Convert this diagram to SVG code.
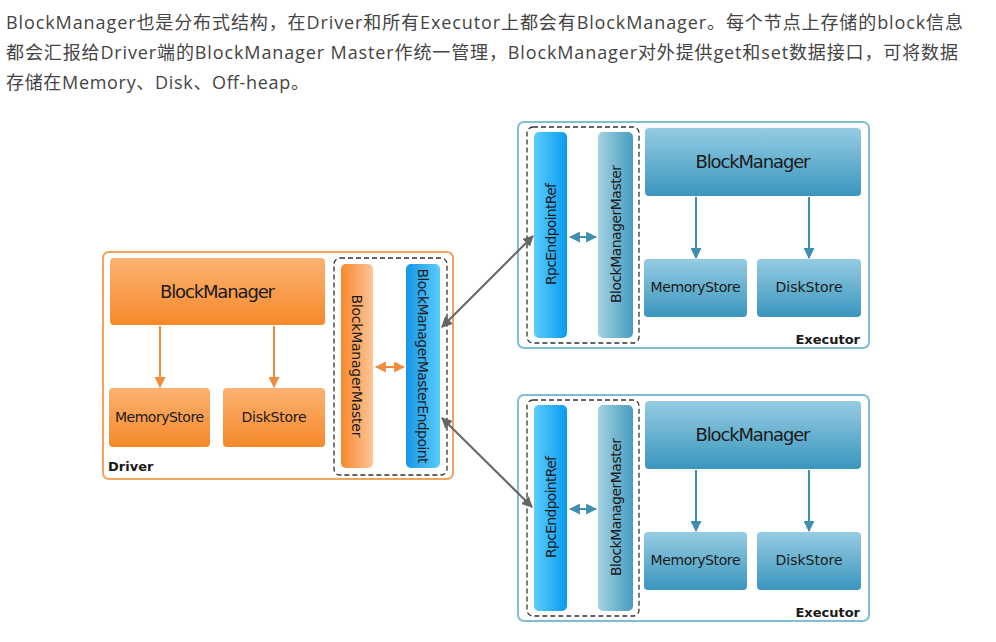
<svg xmlns="http://www.w3.org/2000/svg" width="996" height="642" viewBox="0 0 996 642">
<style>
.para{font-family:"Open Sans","Noto Sans CJK SC",sans-serif;font-size:18px;fill:#444}
.lbl{font-family:"DejaVu Sans",sans-serif;fill:#1a1a1a}
.big{font-size:18px}
.mid{font-size:14px}
.bar{font-size:14px}
.tag{font-size:13px;font-weight:bold}
.drv{fill:#fff;stroke:#F3A360;stroke-width:2}
.exe{fill:#fff;stroke:#80BED6;stroke-width:2}
.dash{fill:none;stroke:#333;stroke-width:1.3;stroke-dasharray:5 3}
.oarr{stroke:#F08C3A;stroke-width:2;fill:none}
.barr{stroke:#3E8FAE;stroke-width:2;fill:none}
.garr{stroke:#666;stroke-width:2;fill:none}
</style>
<defs>
<linearGradient id="oV" x1="0" y1="0" x2="0" y2="1"><stop offset="0" stop-color="#FBB272"/><stop offset="1" stop-color="#F6892A"/></linearGradient>
<linearGradient id="oH" x1="0" y1="0" x2="1" y2="0"><stop offset="0" stop-color="#F6882B"/><stop offset="1" stop-color="#FDC697"/></linearGradient>
<linearGradient id="bEnd" x1="0" y1="0" x2="1" y2="0"><stop offset="0" stop-color="#1796E6"/><stop offset="1" stop-color="#5ACCFC"/></linearGradient>
<linearGradient id="bRef" x1="0" y1="0" x2="1" y2="0"><stop offset="0" stop-color="#5CCDFC"/><stop offset="1" stop-color="#0A9BEE"/></linearGradient>
<linearGradient id="tH" x1="0" y1="0" x2="1" y2="0"><stop offset="0" stop-color="#A5D2E3"/><stop offset="1" stop-color="#469DC0"/></linearGradient>
<linearGradient id="tV" x1="0" y1="0" x2="0" y2="1"><stop offset="0" stop-color="#95CCE2"/><stop offset="1" stop-color="#3A96BE"/></linearGradient>
<marker id="mo" viewBox="0 0 10 10" refX="9" refY="5" markerWidth="5.5" markerHeight="5.5" orient="auto-start-reverse"><path d="M0,0L10,5L0,10z" fill="#F08C3A"/></marker>
<marker id="mb" viewBox="0 0 10 10" refX="9" refY="5" markerWidth="5.5" markerHeight="5.5" orient="auto-start-reverse"><path d="M0,0L10,5L0,10z" fill="#3E8FAE"/></marker>
<marker id="mg" viewBox="0 0 10 10" refX="9" refY="5" markerWidth="5.5" markerHeight="5.5" orient="auto-start-reverse"><path d="M0,0L10,5L0,10z" fill="#666"/></marker>
</defs>
<rect width="996" height="642" fill="#fff"/>
<g id="intro">
<text class="para" x="6" y="29" textLength="957">BlockManager也是分布式结构，在Driver和所有Executor上都会有BlockManager。每个节点上存储的block信息</text>
<text class="para" x="6" y="59" textLength="952">都会汇报给Driver端的BlockManager Master作统一管理，BlockManager对外提供get和set数据接口，可将数据</text>
<text class="para" x="6" y="89" textLength="303">存储在Memory、Disk、Off-heap。</text>
</g>
<g id="driver">
<rect class="drv" x="103" y="252" width="350" height="227" rx="6"/>
<text class="lbl tag" x="108" y="471">Driver</text>
<g id="driver-blockmanager"><rect x="110" y="258" width="215" height="67" rx="4" fill="url(#oV)"/><text class="lbl big" x="217.5" y="298" text-anchor="middle" textLength="115">BlockManager</text></g>
<g id="driver-memorystore"><rect x="109" y="388" width="101" height="59" rx="4" fill="url(#oV)"/><text class="lbl mid" x="159.5" y="422" text-anchor="middle" textLength="89">MemoryStore</text></g>
<g id="driver-diskstore"><rect x="223" y="388" width="102" height="59" rx="4" fill="url(#oV)"/><text class="lbl mid" x="274" y="422" text-anchor="middle" textLength="65">DiskStore</text></g>
<rect class="dash" x="334" y="258" width="113" height="217" rx="6"/>
<g id="driver-bmm"><rect x="341" y="264" width="32" height="204" rx="5" fill="url(#oH)"/><text class="lbl bar" transform="translate(357,366) rotate(90)" text-anchor="middle" dominant-baseline="central" textLength="143">BlockManagerMaster</text></g>
<g id="driver-bmme"><rect x="406" y="264" width="34" height="204" rx="5" fill="url(#bEnd)"/><text class="lbl bar" transform="translate(423,366) rotate(90)" text-anchor="middle" dominant-baseline="central" textLength="195">BlockManagerMasterEndpoint</text></g>
</g>
<g id="executor1">
<rect class="exe" x="518" y="122" width="351" height="226" rx="6"/>
<text class="lbl tag" x="860" y="344" text-anchor="end">Executor</text>
<rect class="dash" x="527" y="127" width="112" height="216" rx="6"/>
<g id="e1-rpc"><rect x="534" y="132" width="33" height="206" rx="5" fill="url(#bRef)"/><text class="lbl bar" transform="translate(550.5,234) rotate(-90)" text-anchor="middle" dominant-baseline="central" textLength="102">RpcEndpointRef</text></g>
<g id="e1-bmm"><rect x="598" y="132" width="35" height="206" rx="5" fill="url(#tH)"/><text class="lbl bar" transform="translate(615.5,234) rotate(-90)" text-anchor="middle" dominant-baseline="central" textLength="138">BlockManagerMaster</text></g>
<g id="e1-blockmanager"><rect x="645" y="128" width="216" height="68" rx="4" fill="url(#tV)"/><text class="lbl big" x="753" y="168" text-anchor="middle" textLength="115">BlockManager</text></g>
<g id="e1-memorystore"><rect x="644" y="259" width="103" height="58" rx="4" fill="url(#tV)"/><text class="lbl mid" x="695.5" y="292" text-anchor="middle" textLength="90">MemoryStore</text></g>
<g id="e1-diskstore"><rect x="757" y="259" width="104" height="58" rx="4" fill="url(#tV)"/><text class="lbl mid" x="809" y="292" text-anchor="middle" textLength="67">DiskStore</text></g>
</g>
<g id="executor2" transform="translate(0,273)">
<rect class="exe" x="518" y="122" width="351" height="226" rx="6"/>
<text class="lbl tag" x="860" y="344" text-anchor="end">Executor</text>
<rect class="dash" x="527" y="127" width="112" height="216" rx="6"/>
<g id="e2-rpc"><rect x="534" y="132" width="33" height="206" rx="5" fill="url(#bRef)"/><text class="lbl bar" transform="translate(550.5,234) rotate(-90)" text-anchor="middle" dominant-baseline="central" textLength="102">RpcEndpointRef</text></g>
<g id="e2-bmm"><rect x="598" y="132" width="35" height="206" rx="5" fill="url(#tH)"/><text class="lbl bar" transform="translate(615.5,234) rotate(-90)" text-anchor="middle" dominant-baseline="central" textLength="138">BlockManagerMaster</text></g>
<g id="e2-blockmanager"><rect x="645" y="128" width="216" height="68" rx="4" fill="url(#tV)"/><text class="lbl big" x="753" y="168" text-anchor="middle" textLength="115">BlockManager</text></g>
<g id="e2-memorystore"><rect x="644" y="259" width="103" height="58" rx="4" fill="url(#tV)"/><text class="lbl mid" x="695.5" y="292" text-anchor="middle" textLength="90">MemoryStore</text></g>
<g id="e2-diskstore"><rect x="757" y="259" width="104" height="58" rx="4" fill="url(#tV)"/><text class="lbl mid" x="809" y="292" text-anchor="middle" textLength="67">DiskStore</text></g>
</g>
<g id="connectors">
<line class="oarr" x1="160" y1="326" x2="160" y2="387" marker-end="url(#mo)"/>
<line class="oarr" x1="274" y1="326" x2="274" y2="387" marker-end="url(#mo)"/>
<line class="oarr" x1="376" y1="367" x2="404" y2="367" marker-start="url(#mo)" marker-end="url(#mo)"/>
<line class="barr" x1="696" y1="197" x2="696" y2="258" marker-end="url(#mb)"/>
<line class="barr" x1="809" y1="197" x2="809" y2="258" marker-end="url(#mb)"/>
<line class="barr" x1="570" y1="237" x2="596" y2="237" marker-start="url(#mb)" marker-end="url(#mb)"/>
<line class="barr" x1="696" y1="470" x2="696" y2="531" marker-end="url(#mb)"/>
<line class="barr" x1="809" y1="470" x2="809" y2="531" marker-end="url(#mb)"/>
<line class="barr" x1="570" y1="509" x2="596" y2="509" marker-start="url(#mb)" marker-end="url(#mb)"/>
<line class="garr" x1="442" y1="327" x2="533" y2="236" marker-start="url(#mg)" marker-end="url(#mg)"/>
<line class="garr" x1="442" y1="418" x2="532" y2="507" marker-start="url(#mg)" marker-end="url(#mg)"/>
</g>
</svg>
